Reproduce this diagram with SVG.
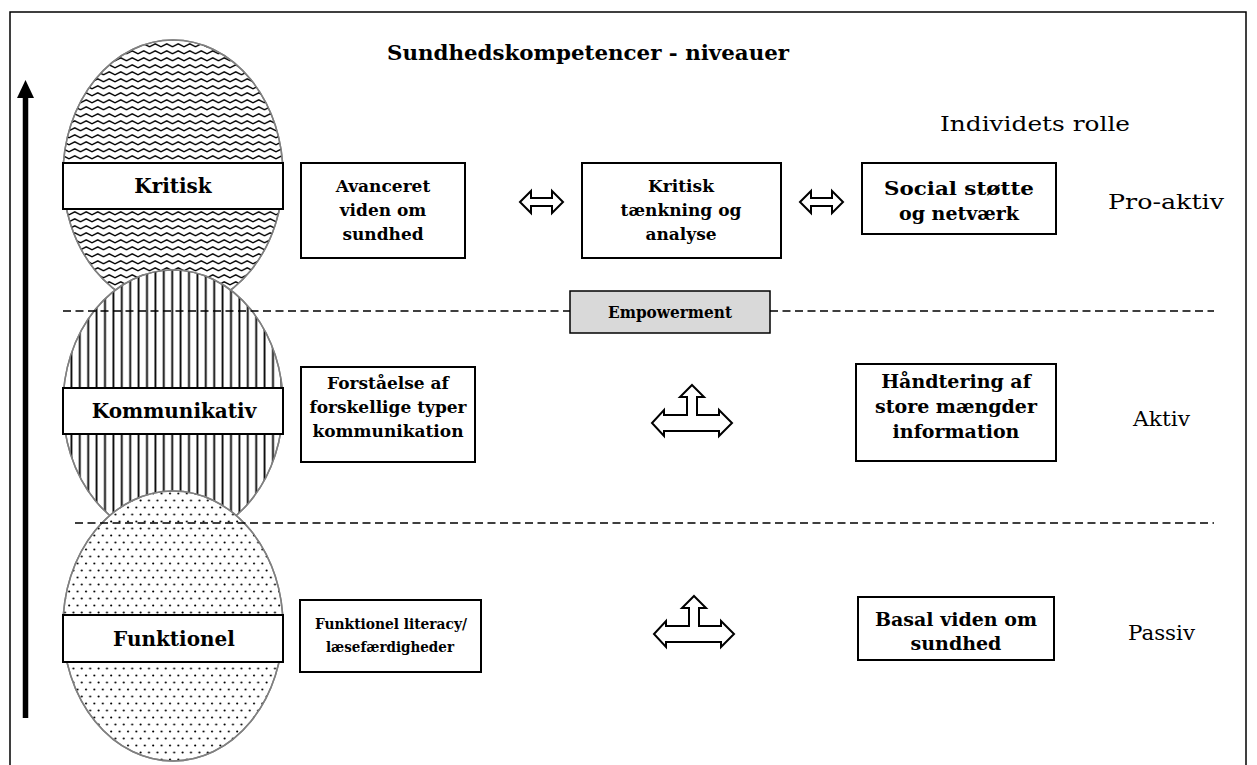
<svg xmlns="http://www.w3.org/2000/svg" width="1257" height="765" viewBox="0 0 1257 765">
<style>
.frame{fill:none;stroke:#000;stroke-width:1.5}
.ell{stroke:#808080;stroke-width:1.5}
.lbl{fill:#fff;stroke:#000;stroke-width:2}
.box{fill:#fff;stroke:#000;stroke-width:2}
.dash{stroke:#000;stroke-width:1.5;stroke-dasharray:8 4.5;fill:none}
.harrow{fill:#fff;stroke:#000;stroke-width:2;stroke-linejoin:miter}
.bt{font-family:"DejaVu Serif","Liberation Serif",serif;font-weight:bold;font-size:17px;text-anchor:middle;fill:#000}
.bt2{font-family:"DejaVu Serif","Liberation Serif",serif;font-weight:bold;font-size:19px;text-anchor:middle;fill:#000}
.bt3{font-family:"DejaVu Serif","Liberation Serif",serif;font-weight:bold;font-size:15.5px;text-anchor:middle;fill:#000}
.lt{font-family:"DejaVu Serif","Liberation Serif",serif;font-weight:bold;font-size:20px;text-anchor:middle;fill:#000}
.rt{font-family:"DejaVu Serif","Liberation Serif",serif;font-size:21px;fill:#000}
</style>
<defs>
<pattern id="wave" width="11.5" height="7" patternUnits="userSpaceOnUse">
<path d="M-0.5,5 L5.75,1.8 L12,5" fill="none" stroke="#000" stroke-width="1.4"/>
</pattern>
<pattern id="vlines" width="8.4" height="10" patternUnits="userSpaceOnUse">
<rect x="3.3" y="0" width="1.8" height="10" fill="#000"/>
</pattern>
<pattern id="dots" width="8.4" height="14" patternUnits="userSpaceOnUse">
<circle cx="2" cy="3.5" r="1.05" fill="#000"/>
<circle cx="6.2" cy="10.5" r="1.05" fill="#000"/>
</pattern>
</defs>

<rect class="frame" x="10" y="12" width="1236" height="770"/>

<g id="axis-arrow">
<line x1="25.5" y1="96" x2="25.5" y2="718" stroke="#000" stroke-width="5.5"/>
<polygon points="25.5,80 34,98 17,98" fill="#000"/>
</g>

<text id="title" x="588" y="60" text-anchor="middle" font-family="DejaVu Serif, Liberation Serif, serif" font-weight="bold" font-size="20" textLength="402" lengthAdjust="spacingAndGlyphs">Sundhedskompetencer - niveauer</text>

<g id="level-kritisk">
<ellipse class="ell" cx="173" cy="175" rx="110" ry="135" fill="#fff"/>
<ellipse class="ell" cx="173" cy="175" rx="110" ry="135" fill="url(#wave)"/>
<rect class="lbl" x="63" y="163" width="220" height="46"/>
<text class="lt" x="173" y="193">Kritisk</text>
</g>

<g id="level-kommunikativ">
<ellipse class="ell" cx="173" cy="405" rx="110" ry="135" fill="#fff"/>
<ellipse class="ell" cx="173" cy="405" rx="110" ry="135" fill="url(#vlines)"/>
<rect class="lbl" x="63" y="388" width="220" height="46"/>
<text class="lt" x="174" y="418">Kommunikativ</text>
</g>

<g id="level-funktionel">
<ellipse class="ell" cx="173" cy="626" rx="110" ry="135" fill="#fff"/>
<ellipse class="ell" cx="173" cy="626" rx="110" ry="135" fill="url(#dots)"/>
<rect class="lbl" x="63" y="615" width="220" height="47"/>
<text class="lt" x="174" y="646">Funktionel</text>
</g>

<g id="dividers">
<line class="dash" x1="63" y1="311" x2="570" y2="311"/>
<line class="dash" x1="770" y1="311" x2="1214" y2="311"/>
<line class="dash" x1="75" y1="523" x2="1214" y2="523"/>
</g>

<g id="empowerment">
<rect x="570" y="291" width="200" height="42" fill="#d9d9d9" stroke="#000" stroke-width="1.5"/>
<text x="670" y="318" text-anchor="middle" font-family="DejaVu Serif Condensed, DejaVu Serif, Liberation Serif, serif" font-weight="bold" font-size="17" font-stretch="condensed" textLength="124" lengthAdjust="spacingAndGlyphs">Empowerment</text>
</g>

<g id="box-avanceret">
<rect class="box" x="301" y="163" width="164" height="95"/>
<text class="bt" x="383" y="192">Avanceret</text>
<text class="bt" x="383" y="216">viden om</text>
<text class="bt" x="383" y="240">sundhed</text>
</g>

<g id="box-kritisk-taenkning">
<rect class="box" x="582" y="163" width="199" height="95"/>
<text class="bt" x="681" y="192">Kritisk</text>
<text class="bt" x="681" y="216">tænkning og</text>
<text class="bt" x="681" y="240">analyse</text>
</g>

<g id="box-social">
<rect class="box" x="862" y="163" width="194" height="71"/>
<text class="bt2" x="959" y="195" textLength="150" lengthAdjust="spacingAndGlyphs">Social støtte</text>
<text class="bt2" x="959" y="220">og netværk</text>
</g>

<g id="box-forstaaelse">
<rect class="box" x="301" y="367" width="174" height="95"/>
<text class="bt" x="388" y="389">Forståelse af</text>
<text class="bt" x="388" y="413">forskellige typer</text>
<text class="bt" x="388" y="437">kommunikation</text>
</g>

<g id="box-haandtering">
<rect class="box" x="856" y="364" width="200" height="97"/>
<text class="bt2" x="956" y="388">Håndtering af</text>
<text class="bt2" x="956" y="413">store mængder</text>
<text class="bt2" x="956" y="438">information</text>
</g>

<g id="box-funktionel-literacy">
<rect class="box" x="300" y="600" width="181" height="72"/>
<text class="bt3" x="391" y="629" textLength="152" lengthAdjust="spacingAndGlyphs">Funktionel literacy/</text>
<text class="bt3" x="390" y="652" textLength="128" lengthAdjust="spacingAndGlyphs">læsefærdigheder</text>
</g>

<g id="box-basal">
<rect class="box" x="858" y="597" width="196" height="63"/>
<text class="bt2" x="956" y="626">Basal viden om</text>
<text class="bt2" x="956" y="650">sundhed</text>
</g>

<g id="connectors">
<polygon class="harrow" points="520,202 531,191 531,198 552,198 552,191 563,202 552,213 552,206 531,206 531,213"/>
<polygon class="harrow" points="800,202 811,191 811,198 832,198 832,191 843,202 832,213 832,206 811,206 811,213"/>
<polygon class="harrow" points="692,385 704,397 697,397 697,415 719,415 719,410 732,423 719,436 719,431 664,431 664,436 652,423 664,410 664,415 687,415 687,397 680,397"/>
<polygon class="harrow" transform="translate(2,211)" points="692,385 704,397 697,397 697,415 719,415 719,410 732,423 719,436 719,431 664,431 664,436 652,423 664,410 664,415 687,415 687,397 680,397"/>
</g>

<g id="roles">
<text class="rt" x="940" y="131" textLength="190" lengthAdjust="spacingAndGlyphs">Individets rolle</text>
<text class="rt" x="1108" y="209" textLength="116" lengthAdjust="spacingAndGlyphs">Pro-aktiv</text>
<text class="rt" x="1133" y="426" textLength="57" lengthAdjust="spacingAndGlyphs">Aktiv</text>
<text class="rt" x="1128" y="640" textLength="67" lengthAdjust="spacingAndGlyphs">Passiv</text>
</g>
</svg>
